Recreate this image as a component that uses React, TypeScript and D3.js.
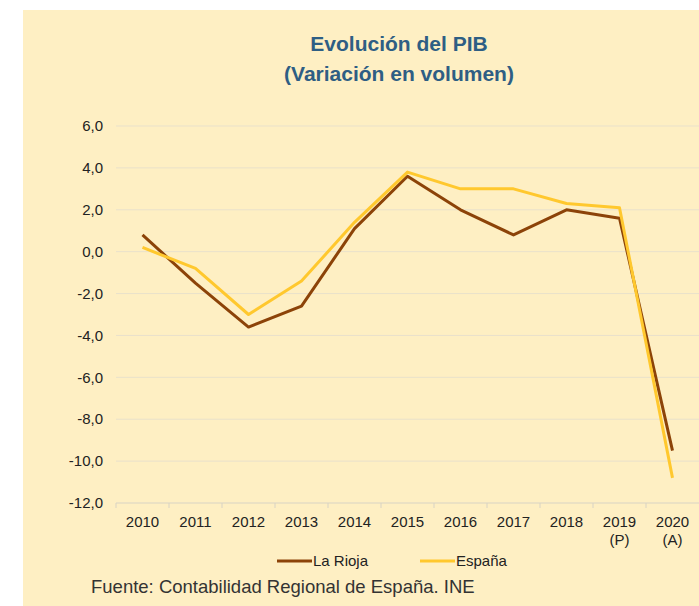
import * as d3 from 'd3'
import { useEffect, useRef } from 'react'

const years = ['2010', '2011', '2012', '2013', '2014', '2015', '2016', '2017', '2018', '2019', '2020']
const yearNotes = ['', '', '', '', '', '', '', '', '', '(P)', '(A)']
const laRioja = [0.8, -1.5, -3.6, -2.6, 1.1, 3.6, 2.0, 0.8, 2.0, 1.6, -9.5]
const espana = [0.2, -0.8, -3.0, -1.4, 1.4, 3.8, 3.0, 3.0, 2.3, 2.1, -10.8]
const yTicks = [6, 4, 2, 0, -2, -4, -6, -8, -10, -12]

const width = 699, height = 606
const font = '"Liberation Sans", Arial, sans-serif'

const chart = (node: SVGSVGElement) => {
  const svg = d3.select(node)
  svg.selectAll('*').remove()

  svg.append('rect')
    .attr('x', 23).attr('y', 10)
    .attr('width', width - 23).attr('height', height - 10)
    .attr('fill', '#FEEFC3')

  const title = svg.append('text')
    .attr('text-anchor', 'middle')
    .attr('font-family', font)
    .attr('font-weight', 'bold')
    .attr('font-size', 21)
    .attr('fill', '#2E5E84')
  title.append('tspan').attr('x', 399).attr('y', 51).text('Evolución del PIB')
  title.append('tspan').attr('x', 399).attr('y', 81).text('(Variación en volumen)')

  const x = d3.scaleBand().domain(years).range([116, 699])
  const y = d3.scaleLinear().domain([-12, 6]).range([503, 126])
  const cx = (d: string) => (x(d) as number) + x.bandwidth() / 2

  // grid
  svg.append('g')
    .selectAll('line')
    .data(yTicks.filter(d => d !== -12))
    .join('line')
    .attr('x1', 116).attr('x2', 699)
    .attr('y1', d => y(d)).attr('y2', d => y(d))
    .attr('stroke', '#E9E1CB')
    .attr('stroke-width', 1)

  // y labels
  svg.append('g')
    .attr('font-family', font)
    .attr('font-size', 15)
    .attr('fill', '#222')
    .attr('text-anchor', 'end')
    .selectAll('text')
    .data(yTicks)
    .join('text')
    .attr('x', 103)
    .attr('y', d => y(d))
    .attr('dy', '0.35em')
    .text(d => d3.format('.1f')(d).replace('.', ',').replace('−', '-'))

  // x axis
  const axis = svg.append('g')
  axis.append('line')
    .attr('x1', 116).attr('x2', 699)
    .attr('y1', y(-12)).attr('y2', y(-12))
    .attr('stroke', '#D8D3C4')
  axis.selectAll('line.tick')
    .data(years)
    .join('line')
    .attr('class', 'tick')
    .attr('x1', d => x(d) as number).attr('x2', d => x(d) as number)
    .attr('y1', y(-12)).attr('y2', y(-12) + 5)
    .attr('stroke', '#D8D3C4')
  const labels = axis.append('g')
    .attr('font-family', font)
    .attr('font-size', 15)
    .attr('fill', '#222')
    .attr('text-anchor', 'middle')
    .selectAll('text')
    .data(years)
    .join('text')
    .attr('y', 527)
  labels.append('tspan').attr('x', d => cx(d)).text(d => d)
  labels.append('tspan').attr('x', d => cx(d)).attr('dy', 18).text((d, i) => yearNotes[i])

  // lines
  const line = d3.line<number>()
    .x((_, i) => cx(years[i]))
    .y(d => y(d))
  const series = [
    { name: 'La Rioja', values: laRioja, color: '#8C4308' },
    { name: 'España', values: espana, color: '#FFC82E' },
  ]
  svg.append('g')
    .attr('fill', 'none')
    .attr('stroke-width', 3)
    .attr('stroke-linejoin', 'round')
    .selectAll('path')
    .data(series)
    .join('path')
    .attr('stroke', d => d.color)
    .attr('d', d => line(d.values))

  // legend
  const legend = svg.append('g')
    .attr('font-family', font)
    .attr('font-size', 15)
    .attr('fill', '#222')
    .selectAll('g')
    .data(series)
    .join('g')
    .attr('transform', (_, i) => `translate(${277 + i * 143},561)`)
  legend.append('line')
    .attr('x1', 0).attr('x2', 35)
    .attr('stroke', d => d.color)
    .attr('stroke-width', 3)
  legend.append('text')
    .attr('x', 36)
    .attr('dy', '0.35em')
    .text(d => d.name)

  svg.append('text')
    .attr('x', 91).attr('y', 593)
    .attr('font-family', font)
    .attr('font-size', 18.5)
    .attr('fill', '#333')
    .text('Fuente: Contabilidad Regional de España. INE')
}

export default function App() {
  const ref = useRef<SVGSVGElement>(null)
  useEffect(() => {
    if (ref.current) chart(ref.current)
  }, [])
  return (
    <div style={{ position: 'fixed', left: 0, top: 0, background: '#fff' }}>
      <svg ref={ref} width={width} height={height} style={{ display: 'block' }} />
    </div>
  )
}
